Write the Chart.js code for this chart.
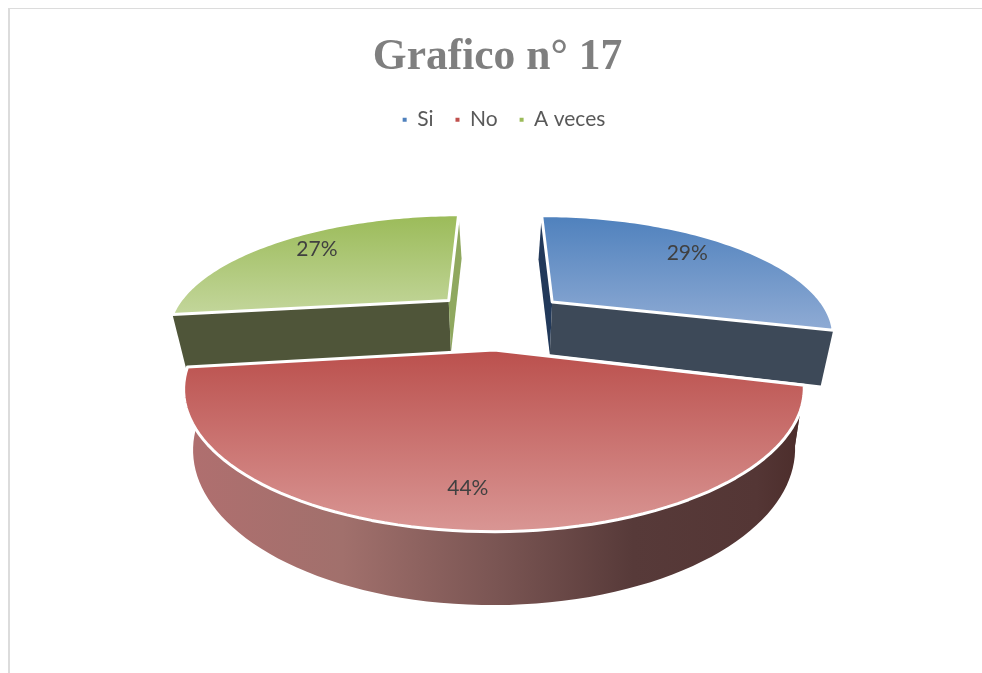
<!DOCTYPE html>
<html>
<head>
<meta charset="utf-8">
<title>Grafico n° 17</title>
<script src="https://cdn.jsdelivr.net/npm/chart.js@4"></script>
<style>
    html, body { margin: 0; padding: 0; background: #fff; overflow: hidden; }
    #wrap { position: relative; width: 982px; height: 673px; }
    #frame { position: absolute; left: 8px; top: 8px; right: 0; bottom: 0; border-left: 2px solid #dcdcdc; border-top: 1px solid #dcdcdc; }
    canvas { position: absolute; left: 0; top: 0; }
</style>
</head>
<body>
<div id="wrap">
    <div id="frame"></div>
    <canvas id="chart" width="982" height="673"></canvas>
</div>
<script>
const categories = ['Si', 'No', 'A veces'];
const values = [29, 44, 27];
const legendColors = ['#4f81bd', '#c0504d', '#9bbb59'];
const topDark = ['#4f81bd', '#bb504d', '#9bbb59'];
const topLight = ['#8fabd4', '#d99694', '#c3d69b'];
const startFaceColors = ['#22395a', '#5a3a38', '#4f5539'];
const endFaceColors = ['#3d4958', '#5a3a38', '#8fa85f'];

// Vista em perspectiva do disco (ajustada ao gráfico original)
const view = { cx: 499, cy: 319, a: 279.6, b: 116, k: 0.255, explode: 0.25, depth: 54 };

function project(u, v) {
    const s = 1 / (1 - view.k * v);
    return { x: view.cx + view.a * u * s, y: view.cy + view.b * v * s, s };
}

// Ponto da base: desce com a perspectiva e fecha um pouco para o centro
function drop(u, v) {
    const p = project(u, v);
    const m = Math.max(0.03, 0.04 - 0.03 * v);
    return { x: view.cx + (p.x - view.cx) * (1 - m), y: p.y + view.depth * Math.pow(p.s, 0.8) };
}

function polygon(ctx, pts) {
    ctx.beginPath();
    pts.forEach((p, i) => (i ? ctx.lineTo(p.x, p.y) : ctx.moveTo(p.x, p.y)));
    ctx.closePath();
}

const pie3d = {
    id: 'pie3d',
    // Acerta título e legenda depois do layout
    afterLayout(chart) {
        const move = (box, dx, dy) => {
            box.left += dx; box.right += dx;
            box.top += dy; box.bottom += dy;
        };
        move(chart.titleBlock, 6.5, 8);
        move(chart.legend, 13, -5);
    },
    // Cancela o desenho padrão: os arcos são desenhados em perspectiva abaixo
    beforeDatasetDraw(chart) {
        const ctx = chart.ctx;
        const arcs = chart.getDatasetMeta(0).data;
        // Fatias de trás primeiro, a fatia vermelha por cima
        [0, 2, 1].forEach(i => drawSlice(ctx, arcs[i], i));
        arcs.forEach((arc, i) => drawLabel(ctx, arc, i));
        return false;
    }
};

function drawSlice(ctx, arc, i) {
    const a0 = arc.startAngle + Math.PI / 2;
    const a1 = arc.endAngle + Math.PI / 2;
    const mid = (a0 + a1) / 2;
    const ou = Math.sin(mid) * view.explode;
    const ov = -Math.cos(mid) * view.explode;

    const rim = [];
    const steps = 80;
    for (let n = 0; n <= steps; n++) {
        const t = a0 + (a1 - a0) * n / steps;
        rim.push([ou + Math.sin(t), ov - Math.cos(t)]);
    }
    const top = rim.map(r => project(r[0], r[1]));
    const bottom = rim.map(r => drop(r[0], r[1]));
    const apexTop = project(ou, ov);
    const apexBottom = drop(ou, ov);

    // Faces radiais
    polygon(ctx, [apexTop, top[0], bottom[0], apexBottom]);
    ctx.fillStyle = startFaceColors[i];
    ctx.fill();
    polygon(ctx, [apexTop, top[steps], bottom[steps], apexBottom]);
    ctx.fillStyle = endFaceColors[i];
    ctx.fill();

    // Lateral curva
    if (i === 1) {
        const side = ctx.createLinearGradient(188, 0, 806, 0);
        side.addColorStop(0, '#b06f6f');
        side.addColorStop(0.25, '#a1706c');
        side.addColorStop(0.5, '#7a5553');
        side.addColorStop(0.72, '#573a39');
        side.addColorStop(0.92, '#543635');
        side.addColorStop(1, '#4b2c2a');
        polygon(ctx, top.concat(bottom.slice().reverse()));
        ctx.fillStyle = side;
        ctx.fill();
    }

    // Face superior com degradê vertical
    const shape = [apexTop].concat(top);
    const ys = shape.map(p => p.y);
    const grad = ctx.createLinearGradient(0, Math.min(...ys), 0, Math.max(...ys));
    grad.addColorStop(0, topDark[i]);
    grad.addColorStop(1, topLight[i]);
    polygon(ctx, shape);
    ctx.fillStyle = grad;
    ctx.fill();
    ctx.strokeStyle = '#ffffff';
    ctx.lineWidth = 3;
    ctx.lineJoin = 'round';
    ctx.stroke();
}

function drawLabel(ctx, arc, i) {
    const mid = (arc.startAngle + arc.endAngle) / 2 + Math.PI / 2;
    const nudgeX = [-11, -6, 5];
    const nudgeY = [-2, 3, -1];
    const r = 0.8;
    const u = Math.sin(mid) * (view.explode + r);
    const v = -Math.cos(mid) * (view.explode + r);
    const p = project(u, v);
    ctx.save();
    ctx.font = '21px Lato, "Open Sans", sans-serif';
    ctx.fillStyle = '#404040';
    ctx.textAlign = 'center';
    ctx.textBaseline = 'middle';
    ctx.fillText(values[i] + '%', p.x + nudgeX[i], p.y + nudgeY[i]);
    ctx.restore();
}

new Chart(document.getElementById('chart'), {
    type: 'pie',
    data: {
        labels: categories,
        datasets: [{ data: values, backgroundColor: legendColors, borderWidth: 0 }]
    },
    options: {
        responsive: false,
        animation: false,
        plugins: {
            title: {
                display: true,
                text: 'Grafico n° 17',
                color: '#7f7f7f',
                font: { family: '"Liberation Serif", serif', size: 43.5, weight: 'bold' },
                padding: { top: 24, bottom: 16 }
            },
            legend: {
                position: 'top',
                labels: {
                    usePointStyle: true,
                    pointStyle: 'rect',
                    boxWidth: 4,
                    boxHeight: 4,
                    padding: 22,
                    color: '#595959',
                    font: { family: 'Lato, "Open Sans", sans-serif', size: 21 }
                }
            },
            tooltip: { enabled: false }
        }
    },
    plugins: [pie3d]
});
</script>
</body>
</html>
